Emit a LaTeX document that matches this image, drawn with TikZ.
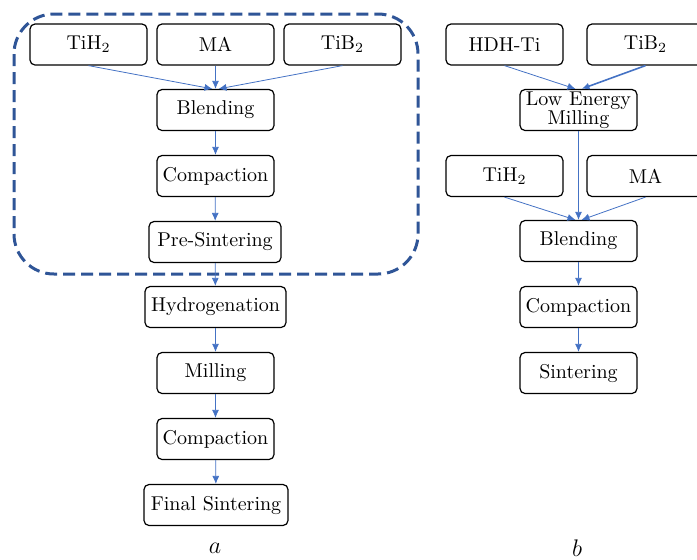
\documentclass[tikz,border=0pt]{standalone}
\usepackage{xcolor}
\usepackage{tikz}
\usetikzlibrary{arrows.meta}

\definecolor{arrblue}{RGB}{68,114,196}
\definecolor{dashblue}{RGB}{47,85,151}

\begin{document}
\begin{tikzpicture}[x=0.5pt,y=-0.5pt,
    proc/.style={draw,rounded corners=2.5pt,minimum width=58.5pt,minimum height=20.5pt,inner sep=2pt,line width=0.6pt,align=center},
     Arr/.style={-{Latex[length=4pt,width=3.5pt]},arrblue,line width=0.4pt},
                        ]
    \clip (0,0) rectangle (697,559);
    % (a) route
    \draw[dashblue,line width=1.5pt,dash pattern=on 6pt off 3pt,rounded corners=20pt] (14,14) rectangle (418,274);
    \node[proc] (tih_a)    at (88.5,44.5) {TiH$_2$};
    \node[proc] (ma_a)     at (215.5,44.5) {MA};
    \node[proc] (tib_a)    at (342.5,44.5) {TiB$_2$};
    \node[proc] (blend_a)  at (215.5,110) {Blending};
    \node[proc] (comp_a)   at (215.5,176) {Compaction};
    \node[proc,minimum width=66pt] (presint_a) at (215,242) {Pre-Sintering};
    \node[proc,minimum width=70.5pt] (hydro_a) at (215.5,307) {Hydrogenation};
    \node[proc] (mill_a)   at (215.5,373) {Milling};
    \node[proc] (comp2_a)  at (215.5,439) {Compaction};
    \node[proc,minimum width=72pt] (final_a) at (216,505) {Final Sintering};
    \node (lbl_a) at (215,548) {\large$a$};
    \draw[Arr] (tih_a.south) -- ([xshift=-1.5pt]blend_a.north);
    \draw[Arr] (ma_a) -- (blend_a);
    \draw[Arr] (tib_a.south) -- ([xshift=1.5pt]blend_a.north);
    \draw[Arr] (blend_a) -- (comp_a);
    \draw[Arr] (comp_a) -- (presint_a);
    \draw[Arr] (presint_a) -- (hydro_a);
    \draw[Arr] (hydro_a) -- (mill_a);
    \draw[Arr] (mill_a) -- (comp2_a);
    \draw[Arr] (comp2_a) -- (final_a);
    % (b) route
    \node[proc] (hdh_b)    at (504.5,44.5) {HDH-Ti};
    \node[proc] (tib_b)    at (645.5,44.5) {TiB$_2$};
    \node[proc,inner sep=0pt,font=\linespread{0.8}\selectfont] (lem_b) at (578.5,110) {Low Energy\\Milling};
    \node[proc] (tih_b)    at (504.5,176) {TiH$_2$};
    \node[proc] (ma_b)     at (645.5,176) {MA};
    \node[proc] (blend_b)  at (578.5,241) {Blending};
    \node[proc] (comp_b)   at (578.5,307) {Compaction};
    \node[proc] (sint_b)   at (578.5,373) {Sintering};
    \node (lbl_b) at (577,548) {\large$b$};
    \draw[Arr] (hdh_b.south) -- ([xshift=-1.5pt]lem_b.north);
    \draw[Arr,line width=0.8pt] (tib_b.south) -- ([xshift=1.5pt]lem_b.north);
    \draw[Arr] (lem_b) -- (blend_b);
    \draw[Arr] (tih_b.south) -- ([xshift=-1.5pt]blend_b.north);
    \draw[Arr] (ma_b.south) -- ([xshift=1.5pt]blend_b.north);
    \draw[Arr] (blend_b) -- (comp_b);
    \draw[Arr] (comp_b) -- (sint_b);

\end{tikzpicture}
\end{document}
